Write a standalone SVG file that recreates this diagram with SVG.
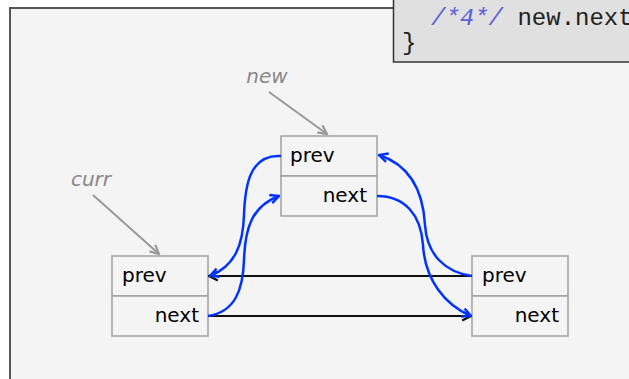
<svg xmlns="http://www.w3.org/2000/svg" width="629" height="379" viewBox="0 0 629 379">
  <style>
    .box{fill:#f4f4f4;stroke:#a0a0a0;stroke-width:1.5}
    .lbl{font-family:"DejaVu Sans",sans-serif;font-size:20px;fill:#000}
    .ptr{font-family:"DejaVu Sans",sans-serif;font-size:20px;font-style:italic;fill:#888}
    .code{font-family:"Liberation Mono",monospace;font-size:24px;fill:#222}
    .cm{fill:#5a62d8;font-style:italic}
    .blue{fill:none;stroke:#0033ff;stroke-width:2.5}
    .blk{fill:none;stroke:#111;stroke-width:2}
    .gry{fill:none;stroke:#999;stroke-width:2}
  </style>
  <defs>
    <marker id="ab" viewBox="0 0 10 10" refX="9" refY="5" markerWidth="11" markerHeight="11" orient="auto" markerUnits="userSpaceOnUse">
      <path d="M1,1 L9,5 L1,9" fill="none" stroke="#0033ff" stroke-width="2.2"/>
    </marker>
    <marker id="ak" viewBox="0 0 10 10" refX="9" refY="5" markerWidth="11" markerHeight="11" orient="auto" markerUnits="userSpaceOnUse">
      <path d="M1,1 L9,5 L1,9" fill="none" stroke="#111" stroke-width="2"/>
    </marker>
    <marker id="ag" viewBox="0 0 10 10" refX="9" refY="5" markerWidth="11" markerHeight="11" orient="auto" markerUnits="userSpaceOnUse">
      <path d="M1,1 L9,5 L1,9" fill="none" stroke="#999" stroke-width="2"/>
    </marker>
  </defs>
  <rect x="0" y="0" width="629" height="379" fill="#ffffff"/>
  <rect id="panel" x="10" y="8" width="700" height="500" fill="#f4f4f4" stroke="#555" stroke-width="2"/>

  <g id="code">
    <rect x="393.5" y="-20" width="300" height="82" fill="#e0e0e0" stroke="#333" stroke-width="1.5"/>
    <text class="code" x="431" y="25"><tspan class="cm">/*4*/</tspan> new.next</text>
    <text class="code" x="402" y="50">}</text>
  </g>

  <g id="label-new"><text class="ptr" x="267" y="83" text-anchor="middle">new</text></g>
  <g id="label-curr"><text class="ptr" x="91" y="186" text-anchor="middle">curr</text></g>

  <g id="node-new">
    <rect class="box" x="281" y="136" width="96" height="40"/>
    <rect class="box" x="281" y="176" width="96" height="40"/>
    <text class="lbl" x="290" y="162">prev</text>
    <text class="lbl" x="367" y="202" text-anchor="end">next</text>
  </g>
  <g id="node-curr">
    <rect class="box" x="112" y="256" width="96" height="40"/>
    <rect class="box" x="112" y="296" width="96" height="40"/>
    <text class="lbl" x="122" y="282">prev</text>
    <text class="lbl" x="199" y="322" text-anchor="end">next</text>
  </g>
  <g id="node-succ">
    <rect class="box" x="472" y="256" width="96" height="40"/>
    <rect class="box" x="472" y="296" width="96" height="40"/>
    <text class="lbl" x="482" y="282">prev</text>
    <text class="lbl" x="559" y="322" text-anchor="end">next</text>
  </g>

  <g id="connectors">
    <path class="gry" d="M269,92 L327,134" marker-end="url(#ag)"/>
    <path class="gry" d="M93,195 L159,254" marker-end="url(#ag)"/>
    <path class="blk" d="M472,276 L209,276" marker-end="url(#ak)"/>
    <path class="blk" d="M208,316 L471,316" marker-end="url(#ak)"/>
    <path class="blue" d="M281,156 C250,154 245,185 244,215 C243,245 235,266 210,276" marker-end="url(#ab)"/>
    <path class="blue" d="M208,316 C235,312 243,290 244,260 C245,228 252,206 279,196" marker-end="url(#ab)"/>
    <path class="blue" d="M472,276 C445,272 427,255 425,225 C423,190 410,165 379,155" marker-end="url(#ab)"/>
    <path class="blue" d="M377,196 C405,196 421,215 423,245 C425,280 445,305 471,316" marker-end="url(#ab)"/>
  </g>
</svg>
